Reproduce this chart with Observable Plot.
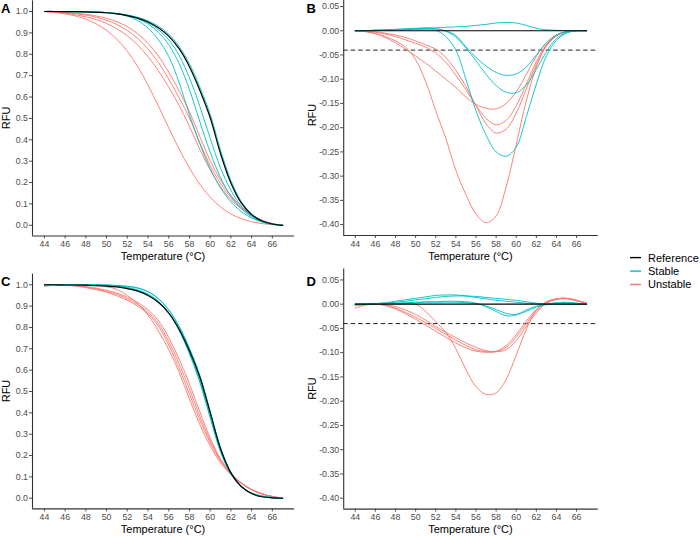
<!DOCTYPE html>
<html><head><meta charset="utf-8">
<script src="https://cdn.jsdelivr.net/npm/d3@7"></script>
<script src="https://cdn.jsdelivr.net/npm/@observablehq/plot@0.6"></script>
<style>
body{margin:0;background:#fff;}
#chart{position:relative;width:700px;height:536px;font-family:"Liberation Sans",Arial,sans-serif;}
#chart svg{position:absolute;left:0;top:0;}
</style></head><body><div id="chart"></div>
<script>
// ---------------- data ----------------
const temps = [44,45,46,47,48,49,50,51,52,53,54,55,56,57,58,59,60,61,62,63,64,65,66,67];
const xTicks = [44,46,48,50,52,54,56,58,60,62,64,66];
const yTicksRFU = [0.0,0.1,0.2,0.3,0.4,0.5,0.6,0.7,0.8,0.9,1.0];
const yTicksDiff = [0.05,0.00,-0.05,-0.10,-0.15,-0.20,-0.25,-0.30,-0.35,-0.40];
const groups = ["Reference","Stable","Unstable"];
const colors = {Reference:"#000000", Stable:"#00BFC4", Unstable:"#F8766D"};

// Panel A: melt curves
const A_reference = [[1.000,1.000,0.999,0.999,0.998,0.996,0.994,0.989,0.981,0.969,0.951,0.924,0.885,0.826,0.742,0.632,0.504,0.335,0.198,0.105,0.050,0.020,0.006,0.000]];
const A_stable = [
 [1.000,1.000,1.000,0.999,0.998,0.997,0.995,0.991,0.984,0.973,0.956,0.931,0.894,0.837,0.756,0.647,0.520,0.352,0.210,0.112,0.054,0.022,0.007,0.000],
 [1.000,1.000,1.000,0.999,0.999,0.998,0.995,0.990,0.982,0.970,0.948,0.915,0.868,0.795,0.690,0.557,0.407,0.269,0.164,0.090,0.045,0.018,0.005,0.000],
 [1.000,1.000,1.000,0.999,0.999,0.998,0.995,0.990,0.981,0.967,0.942,0.902,0.845,0.757,0.635,0.485,0.342,0.223,0.137,0.078,0.040,0.017,0.005,0.000],
 [1.000,1.000,1.000,0.999,0.999,0.997,0.994,0.989,0.978,0.958,0.922,0.868,0.790,0.668,0.517,0.382,0.265,0.175,0.110,0.064,0.034,0.015,0.005,0.000]];
const A_unstable = [
 [1.000,0.996,0.989,0.979,0.964,0.942,0.912,0.870,0.814,0.743,0.656,0.558,0.456,0.357,0.268,0.192,0.132,0.086,0.053,0.031,0.017,0.008,0.003,0.000],
 [1.000,0.996,0.992,0.985,0.975,0.962,0.944,0.919,0.887,0.843,0.789,0.723,0.646,0.561,0.463,0.355,0.259,0.180,0.120,0.078,0.045,0.022,0.008,0.000],
 [1.000,0.998,0.994,0.990,0.983,0.973,0.959,0.939,0.911,0.874,0.824,0.762,0.684,0.597,0.502,0.385,0.280,0.195,0.130,0.083,0.048,0.023,0.008,0.000],
 [1.000,0.998,0.996,0.992,0.987,0.979,0.968,0.952,0.929,0.896,0.851,0.792,0.717,0.629,0.532,0.415,0.303,0.212,0.140,0.088,0.050,0.024,0.008,0.000]];

// Panel B: difference curves
const B_reference = [[0,0,0,0,0,0,0,0,0,0,0,0,0,0,0,0,0,0,0,0,0,0,0,0]];
const B_stable = [
 [0.000,0.000,0.001,0.002,0.003,0.004,0.005,0.006,0.006,0.007,0.008,0.009,0.011,0.013,0.016,0.017,0.016,0.011,0.005,0.002,0.001,0.000,0.000,0.000],
 [0.000,0.000,0.001,0.001,0.002,0.003,0.004,0.005,0.004,0.000,-0.010,-0.033,-0.055,-0.073,-0.086,-0.092,-0.089,-0.075,-0.050,-0.025,-0.009,-0.002,0.000,0.000],
 [0.000,0.000,0.001,0.001,0.002,0.003,0.004,0.005,0.004,-0.001,-0.013,-0.036,-0.062,-0.090,-0.113,-0.127,-0.128,-0.112,-0.080,-0.043,-0.016,-0.004,0.000,0.000],
 [0.000,0.000,0.001,0.001,0.002,0.002,0.002,0.003,0.001,-0.012,-0.040,-0.100,-0.165,-0.215,-0.250,-0.259,-0.240,-0.178,-0.110,-0.052,-0.020,-0.005,0.000,0.000]];
const B_unstable = [
 [0.000,-0.002,-0.006,-0.012,-0.021,-0.034,-0.060,-0.105,-0.165,-0.222,-0.288,-0.338,-0.378,-0.396,-0.382,-0.322,-0.235,-0.145,-0.075,-0.030,-0.009,-0.002,0.000,0.000],
 [0.000,-0.001,-0.006,-0.014,-0.025,-0.038,-0.052,-0.067,-0.083,-0.100,-0.117,-0.137,-0.152,-0.160,-0.161,-0.150,-0.126,-0.090,-0.053,-0.025,-0.009,-0.002,0.000,0.000],
 [0.000,-0.001,-0.003,-0.007,-0.012,-0.019,-0.026,-0.034,-0.046,-0.065,-0.092,-0.122,-0.154,-0.181,-0.194,-0.185,-0.155,-0.110,-0.064,-0.029,-0.010,-0.002,0.000,0.000],
 [0.000,-0.001,-0.002,-0.005,-0.009,-0.014,-0.021,-0.029,-0.038,-0.055,-0.082,-0.115,-0.155,-0.192,-0.211,-0.203,-0.170,-0.120,-0.070,-0.032,-0.011,-0.002,0.000,0.000]];

// Panel C: melt curves
const C_reference = [[1.000,1.000,0.999,0.999,0.998,0.996,0.994,0.990,0.982,0.970,0.950,0.918,0.867,0.792,0.691,0.567,0.401,0.232,0.119,0.055,0.022,0.007,0.002,0.000]];
const C_stable = [
 [1.000,1.000,1.000,1.000,1.000,1.000,0.999,0.997,0.993,0.986,0.968,0.935,0.881,0.803,0.699,0.573,0.405,0.234,0.120,0.055,0.024,0.010,0.004,0.000],
 [1.000,1.000,1.000,1.000,1.000,0.999,0.998,0.996,0.992,0.984,0.967,0.935,0.883,0.806,0.703,0.577,0.409,0.237,0.121,0.056,0.025,0.011,0.004,0.000],
 [1.000,1.000,1.000,1.000,1.000,0.999,0.998,0.995,0.987,0.976,0.956,0.923,0.869,0.787,0.676,0.543,0.379,0.220,0.115,0.055,0.023,0.008,0.002,0.000],
 [1.000,1.000,0.999,1.000,0.999,0.998,0.997,0.994,0.986,0.974,0.954,0.921,0.868,0.788,0.680,0.548,0.380,0.217,0.113,0.054,0.022,0.007,0.002,0.000]];
const C_unstable = [
 [1.000,1.000,0.999,0.998,0.997,0.995,0.991,0.978,0.950,0.912,0.858,0.783,0.697,0.590,0.465,0.345,0.245,0.166,0.110,0.070,0.040,0.020,0.008,0.000],
 [0.992,0.998,0.998,0.994,0.987,0.977,0.965,0.948,0.927,0.900,0.864,0.806,0.718,0.609,0.488,0.366,0.260,0.175,0.114,0.072,0.041,0.021,0.008,0.000],
 [0.997,0.999,0.998,0.995,0.989,0.980,0.969,0.955,0.934,0.908,0.872,0.818,0.734,0.630,0.512,0.384,0.270,0.180,0.115,0.072,0.040,0.020,0.008,0.000],
 [0.999,1.000,0.999,0.997,0.992,0.984,0.974,0.961,0.942,0.917,0.883,0.832,0.752,0.652,0.536,0.405,0.282,0.185,0.116,0.072,0.040,0.020,0.008,0.000]];

// Panel D: difference curves
const D_reference = [[0,0,0,0,0,0,0,0,0,0,0,0,0,0,0,0,0,0,0,0,0,0,0,0]];
const D_stable = [
 [0.000,0.000,0.001,0.003,0.006,0.009,0.012,0.015,0.018,0.019,0.019,0.017,0.014,0.011,0.008,0.006,0.004,0.002,0.001,0.000,0.002,0.003,0.002,0.000],
 [0.000,0.000,0.001,0.002,0.004,0.006,0.009,0.011,0.014,0.016,0.017,0.017,0.016,0.014,0.012,0.010,0.008,0.005,0.002,0.001,0.003,0.004,0.002,0.000],
 [0.000,0.000,0.001,0.001,0.002,0.003,0.004,0.005,0.005,0.006,0.006,0.005,0.002,-0.005,-0.015,-0.024,-0.022,-0.012,-0.004,0.000,0.001,0.001,0.000,0.000],
 [0.000,0.000,0.000,0.001,0.001,0.002,0.003,0.004,0.004,0.004,0.004,0.003,0.001,-0.004,-0.011,-0.019,-0.021,-0.015,-0.006,-0.001,0.000,0.000,0.000,0.000]];
const D_unstable = [
 [-0.002,0.000,0.001,0.001,0.001,0.001,0.000,-0.015,-0.036,-0.058,-0.092,-0.135,-0.170,-0.186,-0.183,-0.155,-0.105,-0.052,-0.012,0.005,0.011,0.012,0.007,0.000],
 [-0.008,-0.002,0.000,-0.003,-0.010,-0.020,-0.031,-0.043,-0.056,-0.068,-0.080,-0.090,-0.097,-0.099,-0.097,-0.085,-0.063,-0.035,-0.011,0.004,0.011,0.012,0.008,0.002],
 [-0.001,0.000,0.000,-0.002,-0.008,-0.017,-0.027,-0.038,-0.050,-0.062,-0.074,-0.085,-0.094,-0.098,-0.098,-0.089,-0.068,-0.040,-0.014,0.002,0.010,0.011,0.007,0.001],
 [-0.003,-0.001,0.000,-0.001,-0.005,-0.012,-0.021,-0.033,-0.046,-0.058,-0.069,-0.080,-0.089,-0.096,-0.098,-0.094,-0.075,-0.046,-0.018,0.002,0.010,0.012,0.008,0.002]];

// ---------------- layout ----------------
const xDomain = [42.85, 68.15];
const panels = [
  {name:"A", series:{Reference:A_reference, Stable:A_stable, Unstable:A_unstable}, xr:[32,294.1], yr:[235.5,0.3], yd:[-0.05,1.05], ticks:yTicksRFU, fmt:d=>d.toFixed(1), dashed:false},
  {name:"B", series:{Reference:B_reference, Stable:B_stable, Unstable:B_unstable}, xr:[343.2,597.7], yr:[235.0,-4.9], yd:[-0.4225,0.0725], ticks:yTicksDiff, fmt:d=>d.toFixed(2), dashed:true},
  {name:"C", series:{Reference:C_reference, Stable:C_stable, Unstable:C_unstable}, xr:[32,294.1], yr:[508.4,273.6], yd:[-0.05,1.05], ticks:yTicksRFU, fmt:d=>d.toFixed(1), dashed:false},
  {name:"D", series:{Reference:D_reference, Stable:D_stable, Unstable:D_unstable}, xr:[343.2,597.7], yr:[508.6,268.5], yd:[-0.4225,0.0725], ticks:yTicksDiff, fmt:d=>d.toFixed(2), dashed:true}
];
const FONT = "'Liberation Sans', Arial, Helvetica, sans-serif";
const chart = document.getElementById("chart");

function toRows(list) {
  const out = [];
  list.forEach((vals, i) => vals.forEach((v, j) => out.push({t: temps[j], v, id: i})));
  return out;
}

for (const p of panels) {
  const W = 700, H = 536;
  const marks = [
    Plot.ruleX([xDomain[0]], {stroke:"#333", strokeWidth:1.1}),
    Plot.ruleY([p.yd[0]], {stroke:"#333", strokeWidth:1.1}),
    Plot.axisX({ticks:xTicks, tickSize:3, tickPadding:2, fontSize:8.8, color:"#4d4d4d", label:null, tickFormat:d=>String(d)}),
    Plot.axisY({ticks:p.ticks, tickSize:3, tickPadding:1.5, fontSize:8.8, color:"#4d4d4d", label:null, tickFormat:p.fmt})
  ];
  if (p.dashed) marks.push(Plot.ruleY([-0.04], {stroke:"#222", strokeWidth:1, strokeDasharray:"4.5,3"}));
  for (const g of ["Unstable","Stable","Reference"]) {
    marks.push(Plot.line(toRows(p.series[g]), {x:"t", y:"v", z:"id", stroke:colors[g], strokeWidth: g==="Reference"?1.2:0.9, curve:"catmull-rom"}));
  }
  const svg = Plot.plot({
    width: W, height: H,
    marginLeft: p.xr[0], marginRight: W - p.xr[1],
    marginTop: Math.max(0, p.yr[1]), marginBottom: H - p.yr[0],
    x: {domain: xDomain, range: p.xr},
    y: {domain: p.yd, range: p.yr},
    style: {fontFamily: FONT, background: "transparent", overflow: "visible"},
    marks
  });
  svg.style.position = "absolute"; svg.style.left = "0px"; svg.style.top = "0px";
  chart.appendChild(svg);
}

// ---------------- titles, panel letters, legend ----------------
const ann = d3.select(chart).append("svg").attr("width",700).attr("height",536)
  .style("position","absolute").style("left","0px").style("top","0px")
  .style("font-family", FONT);
for (const p of panels) {
  const cx = (p.xr[0] + p.xr[1]) / 2;
  const cy = (p.yr[0] + p.yr[1]) / 2;
  const left = p.name === "A" || p.name === "C";
  ann.append("text").attr("x", cx).attr("y", p.yr[0] + 24.8).attr("text-anchor","middle")
    .attr("font-size", 11).attr("fill","#000").text("Temperature (°C)");
  ann.append("text").attr("transform", `translate(${left ? 10 : 315.5},${cy}) rotate(-90)`)
    .attr("text-anchor","middle").attr("font-size", 11).attr("fill","#000").text("RFU");
  ann.append("text").attr("x", left ? 1 : 306.5).attr("y", (p.name==="A"||p.name==="B") ? 13.4 : 286.2)
    .attr("font-size", 13).attr("font-weight","bold").attr("fill","#000").text(p.name);
}
const legY = [257.6, 271.1, 284.5];
groups.forEach((g, i) => {
  ann.append("line").attr("x1", 630).attr("x2", 641).attr("y1", legY[i]).attr("y2", legY[i])
    .attr("stroke", colors[g]).attr("stroke-width", 1.4);
  ann.append("text").attr("x", 648).attr("y", legY[i] + 3.9).attr("font-size", 11).attr("fill","#000").text(g);
});
</script></body></html>
